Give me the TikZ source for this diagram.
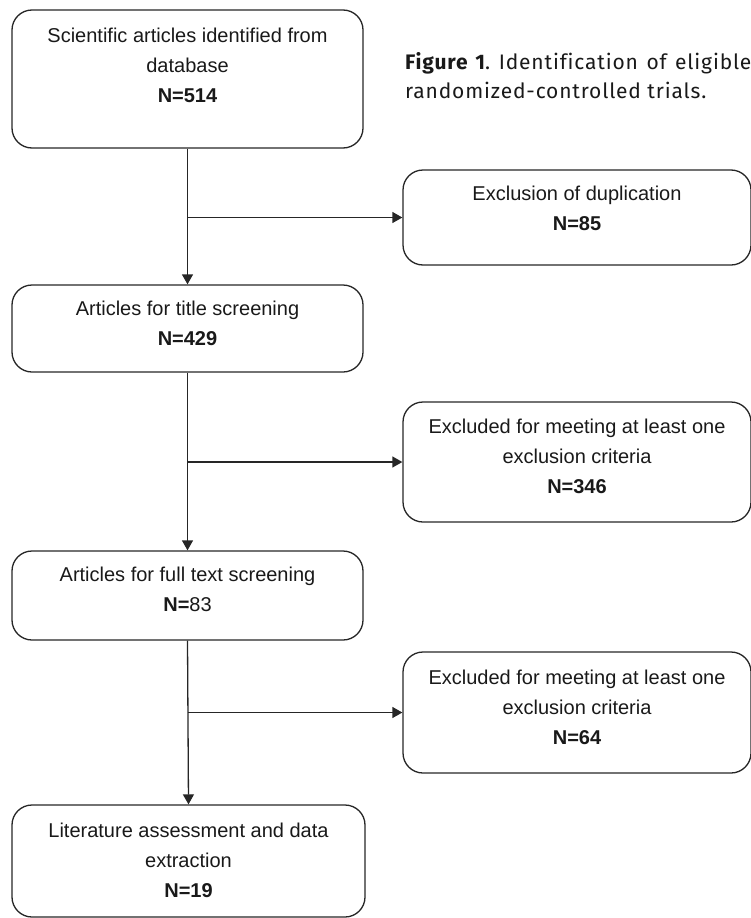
\documentclass[tikz,border=0pt]{standalone}
\usepackage{fontspec}
\setmainfont{Liberation Sans}
\newfontfamily\capfont[LetterSpace=4,Ligatures=NoCommon]{Fira Sans}
\usetikzlibrary{arrows.meta}
\begin{document}
\begin{tikzpicture}[x=1pt,y=-1pt,
  box/.style={draw=black!85,line width=1.3pt,rounded corners=20pt,inner sep=0pt},
  txt/.style={align=center,font=\fontsize{20}{30}\selectfont,text=black!90,inner sep=0pt},
  captxt/.style={anchor=west,inner sep=0pt,font=\capfont\fontsize{21}{27}\selectfont,text=black!90},
  conn/.style={draw=black!85,line width=1.3pt},
  arr/.style={conn,-{Triangle[length=10pt,width=11pt]}}]
\useasboundingbox (0,0) rectangle (751,918);
\clip (0,0) rectangle (751,918);
% left column boxes
\node[box,minimum width=351pt,minimum height=138pt] (b1) at (187.5,79) {};
\node[box,minimum width=351pt,minimum height=87pt] (b3) at (187.5,328.5) {};
\node[box,minimum width=351pt,minimum height=89pt] (b5) at (187.5,595.5) {};
\node[box,minimum width=353pt,minimum height=112pt] (b7) at (188.5,861) {};
% right column boxes
\node[box,minimum width=348pt,minimum height=95pt] (b2) at (577,217.5) {};
\node[box,minimum width=348pt,minimum height=120pt] (b4) at (577,462) {};
\node[box,minimum width=348pt,minimum height=121pt] (b6) at (577,712.5) {};
% texts
\node[txt] (t1) at (187.5,65) {Scientific articles identified from\\database\\\textbf{N=514}};
\node[txt] (t3) at (187.5,323) {Articles for title screening\\\textbf{N=429}};
\node[txt] (t5) at (187.5,589) {Articles for full text screening\\\textbf{N=}83};
\node[txt] (t7) at (188.5,860) {Literature assessment and data\\extraction\\\textbf{N=19}};
\node[txt] (t2) at (577,208) {Exclusion of duplication\\\textbf{N=85}};
\node[txt] (t4) at (577,456) {Excluded for meeting at least one\\exclusion criteria\\\textbf{N=346}};
\node[txt] (t6) at (577,707) {Excluded for meeting at least one\\exclusion criteria\\\textbf{N=64}};
% caption
\node[captxt] (cap1) at (405,63) {\makebox[344pt][s]{\textbf{Figure\ \ 1}.\ \ Identification\ \ of\ \ eligible}};
\node[captxt] (cap2) at (405,90) {randomized-controlled trials.};
% branch points
\coordinate (j1) at (b1.south |- b2.west);
\coordinate (j2) at (b3.south |- b4.west);
\coordinate (j3) at (b5.south |- b6.west);
% connectors
\draw[arr] (b1.south) -- (b3.north);
\draw[arr] (j1) -- (b2.west);
\draw[arr] (b3.south) -- (b5.north);
\draw[arr] (j2) -- (b4.west);
\draw[arr] (b5.south) -- (b7.north);
\draw[arr] (j3) -- (b6.west);
\end{tikzpicture}
\end{document}
